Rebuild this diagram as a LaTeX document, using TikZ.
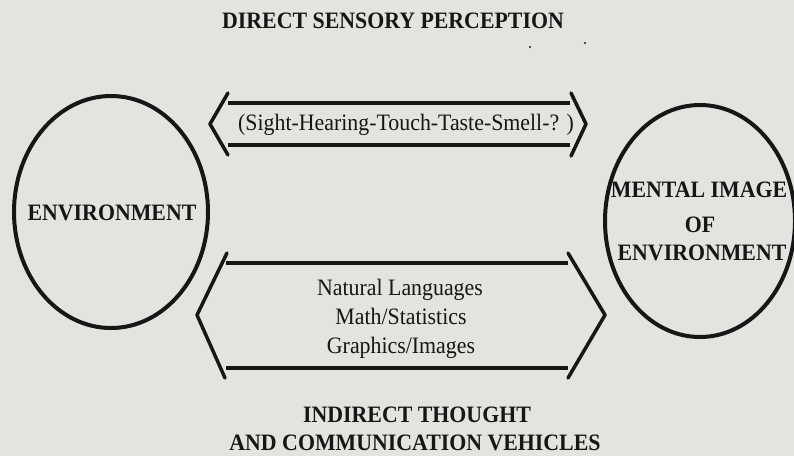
\documentclass[tikz,border=0pt]{standalone}
\usepackage{fontspec}
\setmainfont{Liberation Serif}[FakeStretch=0.93]
\usetikzlibrary{shapes.geometric}
\definecolor{paper}{RGB}{226,228,224}
\definecolor{ink}{RGB}{22,22,22}
\begin{document}
\begin{tikzpicture}[x=1pt,y=-1pt,
  rim/.style={draw=ink, line width=4pt, ellipse, inner sep=0pt},
  bar/.style={draw=ink, line width=4.2pt},
  chev/.style={draw=ink, line width=3.5pt, line join=round, line cap=round},
  caps/.style={font=\fontsize{23.5}{26}\selectfont\bfseries, text=ink, inner sep=0pt, anchor=base},
  plain/.style={font=\fontsize{23.5}{29}\selectfont, text=ink, inner sep=0pt, anchor=base},
]
\fill[paper] (0,0) rectangle (794,456);
\useasboundingbox (0,0) rectangle (794,456);

% the two worlds
\node[rim, minimum width=194, minimum height=232] (env) at (111,212) {};
\node[caps] (envtxt) at (112,220) {ENVIRONMENT};
\node[rim, minimum width=190, minimum height=232] (img) at (700,221) {};
\node[caps] (imgA) at (699,197) {MENTAL IMAGE};
\node[caps] (imgB) at (700,232) {OF};
\node[caps] (imgC) at (702,260) {ENVIRONMENT};

% upper channel: direct perception
\draw[bar] (228,103) -- (570,103);
\draw[bar] (228,145) -- (570,145);
\draw[chev] (228,93) -- (210,124) -- (228,155);
\draw[chev] (571,93) -- (586,124) -- (571,156);
\node[plain] (senses) at (406,130) {(Sight-Hearing-Touch-Taste-Smell-? )};

% lower channel: indirect vehicles
\draw[bar] (226,263) -- (568,263);
\draw[bar] (226,368) -- (568,368);
\draw[chev] (227,253) -- (197,315) -- (225,378);
\draw[chev] (568,253) -- (605,315) -- (568,378);
\node[plain] (lang) at (400,295) {Natural Languages};
\node[plain] (math) at (401,324) {Math/Statistics};
\node[plain] (graph) at (401,353) {Graphics/Images};

% headings
\node[caps] (top) at (393,28.5) {DIRECT SENSORY PERCEPTION};
\node[caps] (botA) at (417,422) {INDIRECT THOUGHT};
\node[caps] (botB) at (415,450.5) {AND COMMUNICATION VEHICLES};

% specks
\fill[ink] (530,47) circle (1.2);
\fill[ink] (585,43) circle (1.2);
\end{tikzpicture}
\end{document}
